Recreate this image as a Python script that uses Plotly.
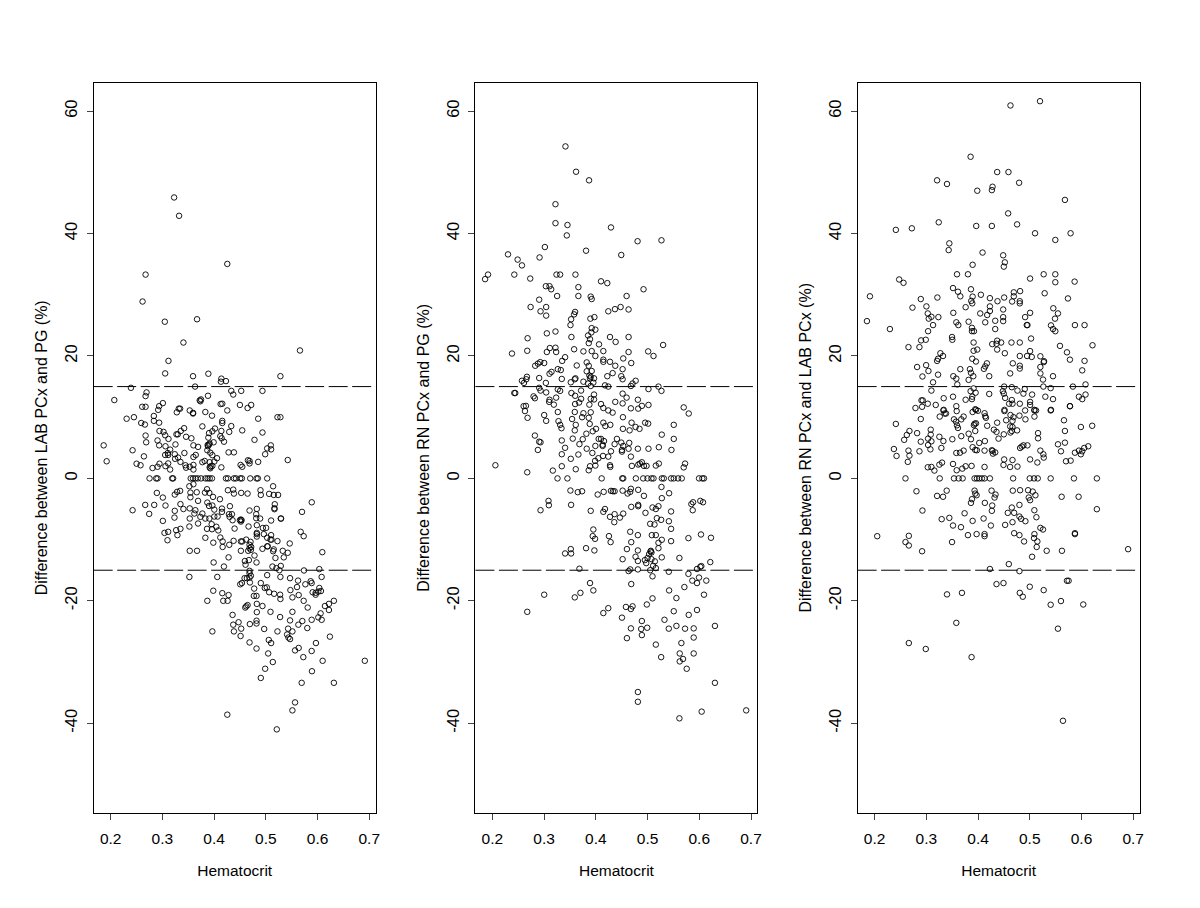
import plotly.graph_objects as go
from plotly.subplots import make_subplots

# hematocrit (x) and difference in % (y)

lab_pg_x = [.3227,.3323,.4255,.2675,.2617,.3047,.367,.3407,.566,.3118,.3054,.3593,.3889,.414,.4132,.4229,.5282,.3632,.2392,.2694,.2675,.4332,.4524,.437,.4935,.2071,.3882,.3722,.3747,.3735,.3009,.2938,.261,.2675,.2919,.3317,.3343,.3279,.3529,.3593,.3593,.3831,.4126,.4158,.4255,.4499,.4647,.4717,.3959,.4852,.5225,.5282,.2309,.245,.2835,.2835,.2938,.2591,.2662,.4158,.4158,.3773,.4332,.342,.3355,.2944,.3022,.3054,.3118,.2675,.3272,.3298,.3458,.3561,.4017,.3966,.3902,.3889,.414,.4293,.4544,.4935,.412,.4146,.4191,.3991,.2906,.2687,.3253,.2938,.306,.36,.369,.3876,.3902,.3882,.3914,.4781,.5096,.5102,.5026,.1865,.2424,.315,.3869,.3927,.3966,.3426,.324,.3105,.3112,.3054,.3645,.36,.3304,.3246,.2643,.428,.4383,.4987,.4056,.4004,.1923,.5424,.3349,.3773,.3818,.3914,.3934,.3914,.3927,.3966,.4653,.4685,.4685,.4852,.4512,.4544,.414,.2501,.2578,.2944,.3112,.281,.2906,.306,.315,.3445,.3458,.3529,.36,.36,
    .2752,.288,.2906,.3189,.3208,.3548,.3593,.3638,.3683,.3747,.3831,.3876,.3914,.3959,.4229,.4267,.4383,.4422,.4505,.4537,.4698,.482,.4846,.5026,
    .5141,.3522,.36,.3863,.4267,.437,.4383,.4524,.4647,.4897,.4903,.5064,.5154,.5237,.2893,.3009,.324,.3285,.3343,.3542,.3542,.3664,.3824,.3908,.3979,.4113,.369,.5888,.2668,.2842,.306,.2424,.2745,.3349,.3407,.324,.3234,.3529,.3638,.3619,.3529,.3869,.3902,.3966,.4004,.3773,.3734,.3831,.3908,.4004,.4068,.4152,.4152,.4306,.4287,.4345,.43,.4357,.4826,.4685,.4814,.4814,.489,.5173,.5167,.5167,.57,.5102,.5289,.5295,.4499,.4518,.4531,.4518,.3009,.369,.3522,.3953,.3863,.3959,.4043,.4081,.3349,.3266,.3291,.3041,.3112,.3099,.4396,.4666,.4826,.4826,.4826,.4826,.4942,.5006,.4961,.5026,.5102,.5109,.509,.5225,.5674,.5732,.3831,.412,.4165,.3985,.4165,.4293,.4377,.4518,.4544,.4621,.4704,.4685,.4717,.5462,.5026,.5038,.4935,.3529,.367,.4518,.4659,.4711,.4685,.5141,.5154,.5327,.5424,.6092,.5186,.5347,.4781,.428,.3991,.419,.4595,.4672,.482,.4608,.5128,.5205,.5289,.5263,.5738,.6034,.4685,.4685,.4711,.4685,.4634,.4589,.5026,.5282,.3522,.4062,.5468,.5623,.5764,.5867,.5886,.6079,.4505,.4537,.4692,.4903,.498,.5019,.5064,.4775,.4769,.482,.516,.5276,.5282,.5475,.5603,.5635,.5514,.5732,.5905,.5963,.5963,.6034,.6066,.6015,.3984,.4158,.428,.3869,.4177,.4261,.4647,.4602,.4621,.4826,.4935,.5809,.6143,.622,.6316,.622,.4826,.509,.5514,.5276,.4357,.6059,.6015,.608,.4473,.437,.4524,.482,.482,.4691,.5468,.5706,.5886,.5629,.5802,.4968,.5225,.543,.5514,.5411,.3966,.4383,.4512,.5437,.5468,.6239,.5057,.5102,.4685,.482,.5969,.5635,.5565,.5886,.5725,.5045,.6914,.6098,.5135,.4987,.5892,.4903,.5693,.6316,.5565,.5514,.4255,.5212]
lab_pg_y = [45.9,42.9,35.04,33.3,28.9,25.6,26.0,22.2,20.9,19.2,17.15,16.7,17.1,16.3,15.8,15.9,16.7,15.0,14.8,14.05,13.45,14.3,14.3,13.7,14.3,12.8,13.5,12.75,12.9,12.6,12.3,11.8,11.7,11.7,11.2,11.4,11.4,10.8,11.1,10.6,10.7,10.85,12.15,12.2,11.1,12.0,11.5,12.0,10.25,9.75,10.0,10.0,9.75,10.0,10.2,9.4,9.1,9.05,8.8,9.4,9.05,8.5,8.55,8.2,7.75,7.75,7.6,7.05,6.45,7.0,7.2,7.2,6.8,6.55,8.15,7.7,7.4,6.66,7.75,7.6,7.85,7.5,6.9,6.55,6.0,5.9,6.2,5.9,5.55,5.4,5.25,5.4,5.15,5.46,5.55,5.25,5.7,6.3,5.4,4.75,4.9,5.4,4.6,4.7,4.6,4.2,3.8,4.15,3.95,4.15,3.83,3.83,3.83,3.5,3.4,3.2,3.6,4.25,4.25,3.95,3.3,2.75,2.8,3.0,2.7,2.65,2.85,2.65,2.0,1.8,1.65,2.05,2.96,2.85,2.45,2.7,2.2,1.9,1.8,2.4,2.15,2.4,2.45,1.7,1.9,2.0,1.45,2.15,1.75,1.9,2.2,1.45,
    0,0,0,0,0,0,0,0,0,0,0,0,0,0,0,0,0,0,0,0,0,0,0,0,
    -1.28,-1.28,-.95,-1.77,-1.93,-1.83,-2.48,-2.37,-2.48,-1.93,-2.7,-2.53,-2.7,-2.7,-2.37,-3.13,-2.64,-2.2,-2.04,-2.32,-3.08,-2.26,-2.32,-2.37,-3.02,-3.4,-3.67,-3.9,-4.33,-4.33,-4.43,-5.2,-5.8,-4.2,-5,-5.3,-6.4,-4.9,-5.2,-5.74,-6.56,-3.95,-4.5,-4.43,-5.1,-5.74,-6.28,-6.56,-6.56,-6.23,-6.23,-4.93,-5.47,-4.54,-5.85,-5.85,-6.28,-6.83,-4.98,-5.25,-5.85,-6.5,-6.56,-4.22,-4.87,-5.03,-5.47,-6.88,-6.56,-6.56,-6.83,-7.05,-6.83,-6.72,-6.94,-7.37,-7.86,-7.48,-8.24,-8.3,-7.9,-8.5,-8.24,-8.46,-9.27,-8.9,-8.73,-10.1,-8.2,-7.86,-7.64,-8.9,-9.1,-9.5,-8.1,-8.08,-9.1,-9.7,-9.27,-10,-10,-10.25,-8.73,-9.44,-9.7,-9.66,-10.3,-10.5,-11.2,-10.85,-10.2,-10.3,-10.3,-10,-10.36,-10.85,-11.2,-10.63,-11.1,-11.1,-11.5,-11.83,-11.83,-11.83,-11.83,-11.67,-11.4,-11.9,-11.6,-11.83,-12.15,-12.05,-13,-12.9,-12.6,-12.9,-13.73,-14.4,-13.5,-13.35,-13.73,-14.1,-14.4,-14.66,-14.3,-15,-15.04,-14.82,-15.1,-15.5,-15.9,-16.2,-16.3,-16.3,-15.8,-16.1,-16.1,-16.1,-16.3,-16.7,-17.3,-16.8,-17.1,-16.1,-17.3,-17.1,-17,-17.1,-17.9,-17.8,-18.6,-18,-19.2,-19.2,-18.85,-19,-19.7,-18.25,-17.75,-19.06,-19.44,-20,-18.6,-19,-18.7,-17.9,-18.4,-18.5,-18.35,-18.75,-19.06,-20,-20,-20,-20.7,-21.1,-20.9,-20.5,-20.85,-21.1,-20.85,-20.5,-20,-21.5,-21.85,-21.8,-21.8,-22.65,-22.3,-22.05,-22.7,-23.1,-23.5,-23.9,-24.55,-23.25,-23.7,-23.8,-23.2,-23.3,-23.1,-23.9,-24.45,-24.6,-25,-24.55,-25,-25.5,-25,-25,-25.75,-26,-26.25,-25.85,-26.4,-26.9,-26.8,-27.8,-26.9,-27.7,-28.1,-28.2,-29.2,-28.6,-29.8,-29.8,-30,-31.1,-31.5,-32.6,-33.4,-33.4,-36.6,-37.9,-38.6,-41]

rn_pg_x = [.3413,.3618,.3869,.322,.322,.3452,.3439,.4293,.4807,.5269,.3015,.3811,.2302,.2488,.2572,.2912,.4492,.1859,.1916,.2424,.2732,.324,.331,.3606,.41,.4222,.4922,.3034,.3105,.3137,.3663,.3252,.3663,.3901,.392,.4595,.2905,.2739,.304,.2931,.304,.4241,.437,.4479,.4633,.3599,.358,.3522,.351,.3895,.3972,.392,.3991,.3914,.385,.3888,.3863,.3053,.322,.3528,.2681,.4274,.4383,.4633,.4062,.5301,.2379,.2674,.3111,.322,.3053,.3233,.358,.376,.392,.4145,.3991,.4633,.5012,.5115,.3406,.3349,.453,.4145,.4145,.4274,.4376,.4685,.4518,.3002,.2925,.288,.2828,.3824,.3863,.3631,.3265,.3323,.3143,.3105,.3824,.392,.4325,.4222,.3875,.3901,.3965,.3888,.2668,.2572,.2655,.261,.2905,.3034,.3342,.3606,.3593,.3516,.376,.385,.3952,.4492,.4518,.477,.471,.4678,.3901,.4177,.4241,.5211,.5269,.5018,.2905,.3265,.331,.2931,.304,.2424,.2443,.3528,.3715,.36,.3965,.4518,.4595,.2796,.2822,.3233,.3105,.3098,.3188,.3715,.3676,.36,.3965,.3901,.3875,.4376,.4518,.4813,.489,.5018,.482,.4678,.41,.4145,.4241,.4325,.5699,.5796,.2604,.2649,.263,.268,.3002,.304,.3265,.3278,.331,.3336,.3593,.376,.3901,.3734,.3863,.3541,.3882,.3612,.3593,.4524,.4145,.4184,.428,.4691,.4768,.4845,.4653,.4524,.4954,.5012,.5507,.5275,.5507,.4004,.394,.3817,.2822,.2905,.2931,.3342,.3554,.3747,.3683,.3406,.4055,.41,.4158,.4132,.4132,.3991,.3824,.4408,.4363,.4492,.453,.4646,.4633,.4505,.4813,.5018,.5218,.5462,.288,
    .2058,.2674,.3169,.3342,.3259,.3451,.3612,.3516,.3342,.3663,.3933,.4049,.3985,.4139,.4241,.4293,.3888,.3862,.3991,.4274,.428,.4113,.4505,.4678,.4697,.482,.4852,.489,.493,.498,.5218,.516,.5725,.5699,
    .4511,.453,.4774,.4916,.4999,.5076,.5115,.5276,.5314,.5455,.5507,.559,.5661,.5995,.6059,.6091,
    .3509,.3651,.3734,.4036,.4152,.4293,.4331,.4363,.4518,.4614,.4678,.4665,.4819,.493,.5269,.5417,.5276,.3085,.3092,.3522,.2931,.3901,.4177,.4145,.4274,.4363,.4466,.453,.4357,.4685,.4819,.4819,.496,.5096,.516,.5211,.5455,.5847,.588,.602,.6072,.5873,.518,.5263,.5412,.5051,.5134,.5455,.3952,.394,.3985,.4254,.4286,.4665,.4813,.4685,.5083,.516,.5455,.5275,.5211,.5211,.579,.6033,.6226,.3811,.3972,.3516,.3522,.3406,.4601,.4813,.4518,.4768,.4813,.5064,.5076,.503,.5057,.5275,.5616,.4948,.5,.4974,.5076,.5141,.5108,.516,.5051,.5096,.6213,.604,.602,.5956,.3683,.4633,.4665,.4813,.5411,.579,.5995,.5866,.5956,.6136,.3888,.3952,.3702,.3593,.3002,.4685,.5712,.5417,.5558,.6091,.5096,.4986,.2674,.4241,.4145,.4582,.471,.4678,.4505,.5507,.5796,.5956,.489,.5327,.5558,.5411,.5725,.5892,.6303,.4678,.4877,.4993,.489,.4601,.516,.5654,.5892,.5263,.5622,.5686,.5622,.5892,.5757,.6303,.4813,.4813,.6046,.6907,.5616]
rn_pg_y = [54.24,50.1,48.7,44.8,41.7,41.4,39.7,41.0,38.75,38.9,37.8,37.2,36.6,35.75,34.8,36.1,36.5,32.55,33.3,33.3,32.65,33.3,33.3,33.3,32.2,31.9,30.9,31.4,31.4,30.9,31.25,29.8,29.8,29.7,29.3,29.8,29.2,28,28,27.3,26.6,27.3,27.65,28,27.6,27.2,26.8,26,25.05,26.1,26.35,24.55,24.3,23.85,23.35,22.75,22.1,23.7,24,23.1,22.9,23.1,22.3,23.1,21.9,21.8,20.4,20.85,21.3,21.35,20.65,20.65,21.1,20.75,20.8,20.8,20.0,20.65,20.75,20,19.8,19.2,19.6,19.4,19.05,19.05,18.4,18.85,17.85,18.85,19,18.75,18.4,18.95,18.4,18.45,17.85,17.7,17.4,17.1,17.5,17.55,17.2,16.7,16.8,16.6,16.35,16.35,16.6,15.95,16.2,15.6,16.4,15.6,16.25,16.35,16.2,15.7,15.8,15.5,15.65,16.7,16.2,15.95,15.5,15.1,15.1,15.2,15,15,14.3,14.6,14.8,14.55,14.3,14.35,14.05,13.95,13.95,13.95,14.35,13.5,13.7,13.85,13.2,13.4,13.1,13.2,12.85,12.5,12.05,13,12.4,12.15,12.9,13,12.05,12.5,12.25,12.85,11.85,12,11.4,11.45,12.15,11.5,11.1,10.75,11.6,10.6,11.8,11.85,11,9.9,10.35,9.4,10.85,9.35,8.75,8.2,10.85,10.65,10.8,10,9.9,9.7,8.9,8.75,7.85,10,9.1,8.55,8.75,9.1,8.4,8.1,7.85,8.1,9.1,8.95,8.75,7.15,6.45,8.1,7.7,7.3,7,6,5.9,6.2,6.5,6.4,5.6,5,6.45,6.45,6.1,5.3,5.5,5.3,4.85,6.45,5.6,5.85,5.3,5.8,4.85,4.65,4.85,4.85,5.1,4.65,4.65,
    2.15,1.0,1.28,1.99,0,0,1.5,3.2,3.95,3.9,4.16,3.3,2.86,3.67,3.56,4.43,1.99,1.33,2.1,2.15,1.88,0,4.38,3.56,2.04,2.26,2.42,2.64,2.04,2.04,2.42,2.1,2.42,1.8,
    0,0,0,0,0,0,0,0,0,0,0,0,0,0,0,0,
    -1.98,-2.25,-2.1,-2.64,-2.2,-2.04,-2.1,-2.1,-2,-2.47,-1.7,-2.2,-1.87,-2.85,-1.4,-2.42,-3.23,-3.67,-4.38,-4.32,-5.2,-5.3,-5,-5.46,-6.28,-5.84,-6.4,-5.75,-7.15,-4.65,-4.32,-4.54,-5.63,-4.75,-5,-4.54,-5.4,-4.2,-3.9,-3.67,-3.9,-5.2,-6.5,-6.77,-7,-7.42,-7.53,-8.24,-8.35,-9.43,-9.87,-9.43,-10.41,-8.72,-9.27,-10.41,-9.27,-9.27,-10.25,-10.03,-10.52,-11.4,-9.76,-9.16,-9.7,-11.4,-11.77,-11.55,-12.26,-12.26,-11.55,-11.77,-13.2,-12.8,-13.5,-11.83,-12.1,-12.37,-11.95,-12.9,-13,-13.35,-13,-13.84,-13.2,-13.56,-14.27,-14.65,-15,-16,-13.67,-14.33,-14.44,-14.8,-14.76,-15.14,-14.87,-14.87,-15.25,-15.6,-16.2,-16.7,-17.1,-16.7,-17.1,-18.3,-18.7,-19.44,-19,-17.26,-17.75,-18.3,-19.55,-19,-19.6,-20.6,-21.8,-21.2,-22,-21,-20.9,-21.34,-22.75,-21.7,-22.3,-21.5,-23.3,-23.1,-24.1,-24.55,-24.55,-24.5,-24.1,-24.5,-24.6,-24.4,-25.6,-26.1,-27.15,-26.9,-26,-29.2,-28.6,-29.5,-29.9,-28.6,-31.1,-33.4,-34.9,-36.5,-38.1,-37.9,-39.2]

rn_lab_x = [.4627,.5198,.3856,.437,.4588,.3208,.34,.3985,.428,.4267,.4794,.568,.4582,.4755,.2411,.272,.324,.3965,.4267,.5102,.5494,.5789,.3445,.3432,.4087,.4486,.4518,.4498,.3895,.3593,.3805,.5006,.5269,.5494,.5494,.5867,.2475,.2559,.191,.3516,.3612,.3657,.3863,.3895,.4055,.3869,.3888,.4229,.4376,.4505,.4691,.4691,.4659,.4813,.4807,.4807,.5288,.5738,.2893,.3214,.3002,.2732,.376,.4229,.4229,.4042,.4486,.5006,.491,.5455,.5545,.5488,.1852,.3028,.3047,.3098,.3233,.313,.3522,.358,.3619,.3818,.4139,.4177,.4332,.4486,.4486,.4955,.4942,.541,.5449,.5494,.5873,.6059,.2296,.3034,.3882,.3882,.3921,.4332,.3497,.3503,.2899,.2989,.3914,.5025,.4274,.437,.4357,.4447,.4646,.4807,.2655,.2867,.5584,.6213,.3914,.3985,.437,.4518,.3272,.3323,.3227,.3208,.5006,.4807,.4948,.5038,.5205,.5276,.527,.5719,.5776,.6059,.3888,.3959,.2996,.2822,.3041,.2925,.3227,.4672,.4807,.4807,.4171,.4139,.4113,.3657,.3843,.3863,.5205,.5205,.5256,.5449,.6014,.3908,.4216,.4621,.3522,.358,.3599,.3818,.313,.4505,.4653,.4762,.4903,.4877,.5045,.5263,.5404,.5834,.6078,.3914,.3856,.3953,.3888,.3882,.3098,.4216,.4479,.4498,.4524,.3336,.3516,.376,.5301,.5449,.595,.6014,.6078,.2906,.2931,.3028,.2918,.3182,.279,.358,.4653,.4601,.4666,.4807,.5006,.5006,.5777,.3336,.3946,.4511,.509,.541,
    .333,.3355,.338,.3259,.3587,.2893,.2411,.3895,.396,.3998,.4126,.4139,.4152,.3721,.3676,.3535,.3574,.3593,.3612,.4511,.4627,.4685,.4543,.4666,.48,.4916,.491,.509,.5121,.509,.5404,.5777,.5661,.568,.5988,.6207,.392,.396,.3934,.4177,.437,.3946,.3818,.3676,.4306,.4357,.4396,.4498,.4621,.4666,.4627,.4653,.4755,.516,.516,.2674,.2623,.2572,.2822,.3085,.3085,.3034,.3098,.2893,.3252,.333,.3034,.3079,.3291,.2867,.2655,.2674,.2373,.2424,.2642,.3503,.3863,.4023,.4132,.3895,.3946,.3978,.4126,.3721,.3651,.358,.4267,.4287,.428,.4332,.4813,.4877,.4955,.4845,.5205,.5263,.527,.5006,.5147,.5545,.568,.5603,.57,.579,.5873,.595,.6014,.5988,.6053,.613,.4505,.4666,.4492,.462,.4762,.3304,.3252,.3098,.3028,.3156,.3516,.3587,.3696,.376,.3875,.4126,
    .2597,.3259,.3535,.3625,.3702,.3933,.3978,.4023,.4075,.4126,.4229,.4678,.5,.5083,.5154,.5404,.5854,.6297,
    .2809,.3208,.3323,.3394,.3933,.3946,.3972,.3882,.3863,.4261,.4338,.4319,.4132,.4274,.4267,.4672,.4813,.4967,.5057,.5109,.498,.5006,.5616,.5944,.6297,.2925,.374,.3895,.4107,.3297,.3445,.3516,.367,.48,.4653,.4575,.4698,.48,.4832,.4916,.5089,.5128,.4248,.4524,.4666,.3805,.3972,.4126,.4126,.4698,.48,.489,.509,.5083,.5147,.5134,.5205,.5256,.5873,.5873,.2051,.2662,.2597,.2662,.2918,.3497,.5045,.5327,.5622,.6901,.4595,.4229,.48,.4357,.4492,.4807,.4865,.5,.5269,.5719,.5751,.34,.3689,.5404,.5603,.6034,.358,.5545,.2662,.2989,.3875,.5642]
rn_lab_y = [60.93,61.63,52.55,50.05,50.05,48.7,48.1,47,47.65,47.1,48.3,45.5,43.3,41.5,40.6,40.86,41.84,41.24,41.24,40.05,38.96,40.05,38.4,37.3,36.9,36.45,35.3,34.6,34.9,33.35,33.35,32.65,33.35,33.35,32.05,32.15,32.5,31.95,29.75,31.1,30.5,29.75,30.9,29.7,30,29,28.6,29.45,28.95,29.55,30.4,29.75,28.9,30.6,28.95,28.6,30.25,29.4,29.3,29.55,28.1,27.9,27.97,28.1,27.35,26.95,27.6,27.05,26.35,27.8,26.95,26.1,25.7,26.95,26.1,26.4,26.35,25.05,27.05,25.5,25.05,25.6,25.5,26.7,25.75,26.35,25.7,25.05,25.05,25,24.4,24.05,25.05,25.05,24.4,24.05,24.6,24.05,24.05,24.4,23.1,22.65,22.55,22.65,22.2,22.85,21.94,22.5,22,22.2,22.2,22.2,21.45,21.45,21.65,21.75,20.85,21.05,21.05,20.45,20.45,20,19.55,19.2,20.8,20,20,19.85,19.95,19.15,19,20.6,19.4,19.2,19.55,19.1,18.5,18.2,17.55,16.65,16.95,18.8,18.4,17.95,18.8,18.3,17.9,17.85,17.85,17.25,18.2,17.15,16.15,16.7,17.65,16.7,16.7,17.15,16.7,16.3,15.35,16.1,15.7,15,14.9,14.35,14.6,13.85,13.7,15,14.75,15,15.35,14.7,14.25,14,13.35,12.95,14.35,13.8,14.25,13.85,13.15,13.1,13.35,12.85,13.35,12.95,13.35,12.95,13.7,12.75,12.75,12.2,11.7,12,11.5,11.8,12.8,12.2,12.2,12.2,12.5,12,11.8,11.2,11.3,11.2,11.2,11.2,
    11.1,10.6,10.6,10.1,11,9.7,8.9,10.85,11.2,11.05,10.65,10.15,9.9,10.1,9.65,9.65,9.27,8.67,8.24,11,10.35,10,9.5,9.4,10.25,9.65,11.1,11.1,11.1,10.1,11.1,11.8,9.5,7.75,8.4,8.6,8.7,9,8.94,8.6,9.1,7.75,7.3,6.9,7.96,7.6,6.5,7.2,8.5,8.4,7.5,7.75,7.85,7.4,6.55,7.75,7.1,6.3,7.4,7.96,7.15,6.5,6.06,6,6.8,6.1,5.46,4.75,4.97,4.43,4.54,3.72,4.8,3.67,2.7,6.4,6.4,5.8,6.1,5.1,4.65,4.6,4.54,4.54,4.2,4.16,4.6,4.05,4.5,4.25,4.97,5.4,5.4,5.2,4.54,3.94,3.4,3.1,2.6,5.57,5.84,4.43,2.8,2.9,4.2,4.54,4.43,3.94,4.97,5.25,3.1,3,2.2,1.87,1.93,2.58,2.25,1.87,1.82,1.28,2.36,1.33,1.6,1.98,2.04,1.87,
    0,0,0,0,0,0,0,0,0,0,0,0,0,0,0,0,0,0,
    -2.1,-2.86,-3,-2,-2,-2.48,-2.75,-3.4,-4,-2,-2.64,-3.13,-4,-4.43,-5.3,-2,-1.93,-1.93,-2.15,-2.75,-3.13,-3.56,-3,-3,-5.03,-5.25,-5.7,-6.94,-6.55,-6.66,-6.45,-7.7,-7.97,-4.33,-4.76,-5.63,-5.63,-6.23,-6.6,-6.99,-5.2,-6.34,-7.7,-7.6,-7.15,-9.27,-9.1,-9.1,-9.44,-8.95,-9.27,-10.3,-9.1,-9.76,-10.3,-11.2,-8.08,-8.35,-8.95,-9.1,-9.44,-9.38,-10.4,-10.96,-11.9,-10.4,-12.8,-11.83,-11.83,-11.56,-14,-14.8,-15.15,-17.27,-17.1,-18.7,-19.33,-17.7,-18.25,-16.72,-16.72,-18.95,-18.7,-20.64,-20.04,-20.6,-23.6,-24.55,-26.9,-27.87,-29.2,-39.6]

panels = [
    ('Difference between LAB PCx and PG (%)', lab_pg_x, lab_pg_y),
    ('Difference between RN PCx and PG (%)', rn_pg_x, rn_pg_y),
    ('Difference between RN PCx and LAB PCx (%)', rn_lab_x, rn_lab_y),
]
limits = [15, -15]
x_ticks = ['0.2', '0.3', '0.4', '0.5', '0.6', '0.7']
y_ticks = ['-40', '-20', '0', '20', '40', '60']

fig = make_subplots(rows=1, cols=3)
lefts = [94, 477, 860.5]
for i, (label, xs, ys) in enumerate(panels):
    n = i + 1
    fig.add_trace(go.Scatter(x=xs, y=ys, mode='markers',
                             marker=dict(symbol='circle-open', size=5.5, color='black', line=dict(width=0.9))),
                  row=1, col=n)
    for lim in limits:
        fig.add_hline(y=lim, line=dict(color='black', width=1, dash='19px,4.5px'), row=1, col=n)
    fig.update_xaxes(domain=[lefts[i] / 1200, (lefts[i] + 283) / 1200], range=[0.1672, 0.7125],
                     tickvals=[float(t) for t in x_ticks], ticktext=x_ticks,
                     title=dict(text='Hematocrit', standoff=18, font=dict(size=15.5)), row=1, col=n)
    fig.update_yaxes(domain=[1 - 812.6 / 908, 1 - 83 / 908], range=[-54.6, 64.6],
                     tickvals=[float(t) for t in y_ticks], ticktext=y_ticks, tickangle=-90,
                     title=dict(text=label, standoff=10, font=dict(size=16)), row=1, col=n)

fig.update_xaxes(showgrid=False, zeroline=False, showline=True, mirror=True, linecolor='black', linewidth=1,
                 ticks='outside', ticklen=6, tickcolor='#444444', tickwidth=1, tickfont=dict(size=15.5),
                 ticklabelstandoff=6)
fig.update_yaxes(showgrid=False, zeroline=False, showline=True, mirror=True, linecolor='black', linewidth=1,
                 ticks='outside', ticklen=6, tickcolor='#444444', tickwidth=1, tickfont=dict(size=16.5),
                 ticklabelstandoff=3)
fig.update_layout(width=1200, height=908, margin=dict(l=0, r=0, t=0, b=0), showlegend=False,
                  paper_bgcolor='white', plot_bgcolor='white',
                  font=dict(family='Liberation Sans, Arial, sans-serif', color='black'))

fig.write_html("out.html", config={'displayModeBar': False}, post_script="document.body.style.margin='0';")
